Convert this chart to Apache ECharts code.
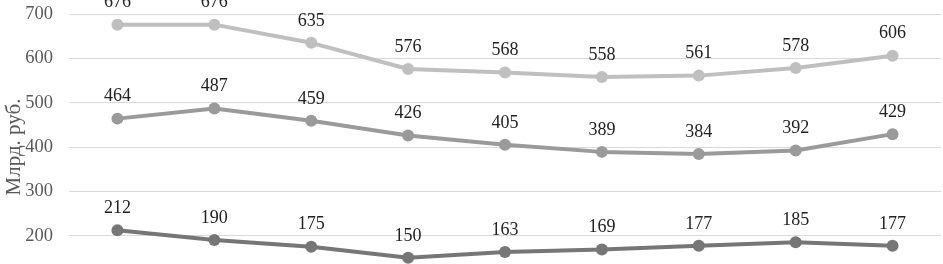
<!DOCTYPE html>
<html><head><meta charset="utf-8">
<script src="https://cdn.jsdelivr.net/npm/echarts@6/dist/echarts.min.js"></script>
<style>html,body{margin:0;padding:0;background:#fff;overflow:hidden}#c{width:943px;height:264px}</style>
</head><body><div id="c"></div>
<script>
const categories = ['1','2','3','4','5','6','7','8','9'];
const seriesTop = [676,676,635,576,568,558,561,578,606];
const seriesMid = [464,487,459,426,405,389,384,392,429];
const seriesLow = [212,190,175,150,163,169,177,185,177];
const yName = 'Млрд. руб.';
const font = '"Liberation Serif", "Times New Roman", serif';
function mk(data, color){
  return {type:'line', data, symbol:'circle', symbolSize:12,
    lineStyle:{color, width:4}, itemStyle:{color},
    label:{show:true, position:'top', distance:7, color:'#222', fontFamily:font, fontSize:18},
    animation:false};
}
const chart = echarts.init(document.getElementById('c'));
chart.setOption({
  animation:false,
  grid:{left:69, right:2, top:14, height:266, outerBoundsMode:'none', containLabel:false},
  xAxis:{type:'category', data:categories, boundaryGap:true,
    axisLine:{show:false}, axisTick:{show:false}, axisLabel:{show:false}},
  yAxis:{type:'value', min:100, max:700, interval:100,
    name:yName, nameLocation:'middle', nameGap:44, nameRotate:90, nameMoveOverlap:false,
    nameTextStyle:{fontFamily:font, fontSize:21, color:'#595959'},
    axisLabel:{fontFamily:font, fontSize:18.5, color:'#595959', margin:16},
    axisLine:{show:false}, axisTick:{show:false},
    splitLine:{lineStyle:{color:'#d9d9d9', width:1}}},
  series:[mk(seriesTop,'#bfbfbf'), mk(seriesMid,'#9a9a9a'), mk(seriesLow,'#767676')]
});
</script></body></html>
